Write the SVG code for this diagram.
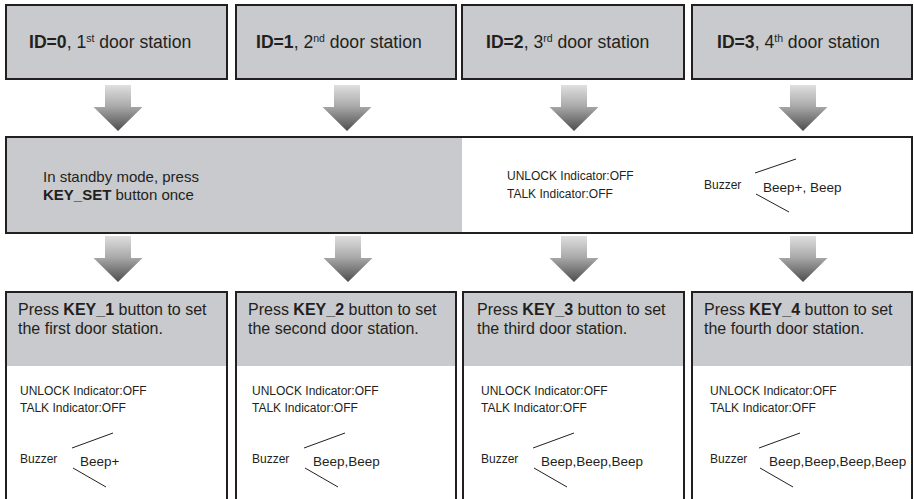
<svg xmlns="http://www.w3.org/2000/svg" width="914" height="499" viewBox="0 0 914 499">
<defs>
<linearGradient id="ag" x1="0" y1="0" x2="0" y2="1">
<stop offset="0" stop-color="#dfdfdf"/>
<stop offset="0.45" stop-color="#ababab"/>
<stop offset="1" stop-color="#4d4d4d"/>
</linearGradient>
<path id="arr" d="M-13,0 H13 V22 H24.5 L0,46 L-24.5,22 H-13 Z" fill="url(#ag)"/>
</defs>
<style>
.box{fill:#c8cacd;stroke:#231f20;stroke-width:2}
.wbox{fill:#ffffff;stroke:#231f20;stroke-width:2}
.gray{fill:#c8cacd}
text{font-family:"Liberation Sans",Arial,sans-serif;fill:#231f20}
.t17{font-size:17.6px}
.t16{font-size:16px}
.t15{font-size:15px}
.t12{font-size:12px}
.t13{font-size:13.5px}
.b{font-weight:bold}
.ln{stroke:#231f20;stroke-width:1;fill:none}
</style>
<rect width="914" height="499" fill="#ffffff"/>

<g id="top1">
<rect class="box" x="6" y="5" width="221" height="74"/>
<text class="t17" x="29" y="48"><tspan class="b">ID=0</tspan>, 1<tspan font-size="10.5" dy="-6">st</tspan><tspan dy="6"> door station</tspan></text>
</g>
<g id="top2">
<rect class="box" x="236" y="5" width="220" height="74"/>
<text class="t17" x="256" y="48"><tspan class="b">ID=1</tspan>, 2<tspan font-size="10.5" dy="-6">nd</tspan><tspan dy="6"> door station</tspan></text>
</g>
<g id="top3">
<rect class="box" x="462" y="5" width="222" height="74"/>
<text class="t17" x="486" y="48"><tspan class="b">ID=2</tspan>, 3<tspan font-size="10.5" dy="-6">rd</tspan><tspan dy="6"> door station</tspan></text>
</g>
<g id="top4">
<rect class="box" x="692" y="5" width="220" height="74"/>
<text class="t17" x="717" y="48"><tspan class="b">ID=3</tspan>, 4<tspan font-size="10.5" dy="-6">th</tspan><tspan dy="6"> door station</tspan></text>
</g>

<g id="standby">
<rect class="wbox" x="6" y="137" width="906" height="96"/>
<rect class="gray" x="7" y="138" width="455" height="94"/>
<text class="t15" x="43" y="182">In standby mode, press</text>
<text class="t15" x="43" y="200"><tspan class="b">KEY_SET</tspan> button once</text>
<text class="t12" x="507" y="180">UNLOCK Indicator:OFF</text>
<text class="t12" x="507" y="198">TALK Indicator:OFF</text>
<text class="t12" x="704" y="189">Buzzer</text>
<text class="t13" x="763" y="192">Beep+, Beep</text>
<line class="ln" x1="755" y1="173" x2="796" y2="159"/>
<line class="ln" x1="756" y1="194" x2="789" y2="212"/>
</g>

<g id="set1">
<rect class="wbox" x="6" y="292" width="221" height="220"/>
<rect class="gray" x="7" y="293" width="219" height="73"/>
<text class="t16" x="18" y="315">Press <tspan class="b">KEY_1</tspan> button to set</text>
<text class="t16" x="18" y="334">the first door station.</text>
<text class="t12" x="20" y="395">UNLOCK Indicator:OFF</text>
<text class="t12" x="20" y="412">TALK Indicator:OFF</text>
<text class="t12" x="20" y="463">Buzzer</text>
<text class="t13" x="80" y="466">Beep+</text>
<line class="ln" x1="72" y1="448" x2="113" y2="433"/>
<line class="ln" x1="73" y1="468" x2="106" y2="487"/>
</g>
<g id="set2">
<rect class="wbox" x="236" y="292" width="220" height="220"/>
<rect class="gray" x="237" y="293" width="218" height="73"/>
<text class="t16" x="248" y="315">Press <tspan class="b">KEY_2</tspan> button to set</text>
<text class="t16" x="248" y="334">the second door station.</text>
<text class="t12" x="252" y="395">UNLOCK Indicator:OFF</text>
<text class="t12" x="252" y="412">TALK Indicator:OFF</text>
<text class="t12" x="252" y="463">Buzzer</text>
<text class="t13" x="313" y="466">Beep,Beep</text>
<line class="ln" x1="304" y1="448" x2="345" y2="433"/>
<line class="ln" x1="305" y1="468" x2="338" y2="487"/>
</g>
<g id="set3">
<rect class="wbox" x="463" y="292" width="221" height="220"/>
<rect class="gray" x="464" y="293" width="219" height="73"/>
<text class="t16" x="477" y="315">Press <tspan class="b">KEY_3</tspan> button to set</text>
<text class="t16" x="477" y="334">the third door station.</text>
<text class="t12" x="481" y="395">UNLOCK Indicator:OFF</text>
<text class="t12" x="481" y="412">TALK Indicator:OFF</text>
<text class="t12" x="481" y="463">Buzzer</text>
<text class="t13" x="541" y="466">Beep,Beep,Beep</text>
<line class="ln" x1="533" y1="448" x2="574" y2="433"/>
<line class="ln" x1="534" y1="468" x2="567" y2="487"/>
</g>
<g id="set4">
<rect class="wbox" x="692" y="292" width="220" height="220"/>
<rect class="gray" x="693" y="293" width="218" height="73"/>
<text class="t16" x="704" y="315">Press <tspan class="b">KEY_4</tspan> button to set</text>
<text class="t16" x="704" y="334">the fourth door station.</text>
<text class="t12" x="710" y="395">UNLOCK Indicator:OFF</text>
<text class="t12" x="710" y="412">TALK Indicator:OFF</text>
<text class="t12" x="710" y="463">Buzzer</text>
<text class="t13" x="769" y="466">Beep,Beep,Beep,Beep</text>
<line class="ln" x1="759" y1="448" x2="800" y2="433"/>
<line class="ln" x1="760" y1="468" x2="793" y2="487"/>
</g>

<g id="connectors">
<use href="#arr" x="118" y="85"/>
<use href="#arr" x="347" y="85"/>
<use href="#arr" x="574" y="85"/>
<use href="#arr" x="803" y="85"/>
<use href="#arr" x="118" y="236"/>
<use href="#arr" x="348" y="236"/>
<use href="#arr" x="574" y="236"/>
<use href="#arr" x="803" y="236"/>
</g>
</svg>
